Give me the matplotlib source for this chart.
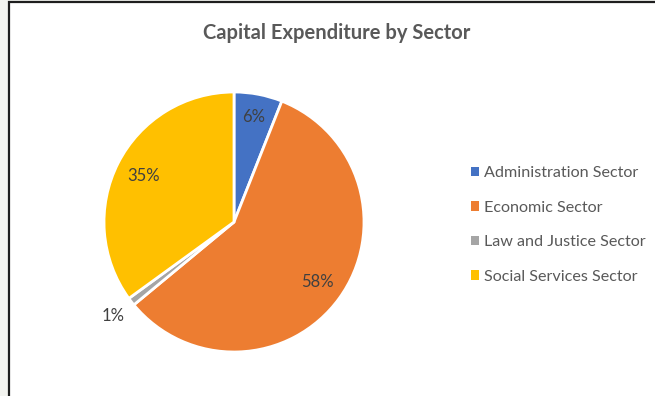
import matplotlib

matplotlib.use("Agg")
import matplotlib.pyplot as plt
import numpy as np
from matplotlib.patches import Patch, Rectangle

# Capital expenditure shares (percent)
sectors = [
    "Administration Sector",
    "Economic Sector",
    "Law and Justice Sector",
    "Social Services Sector",
]
shares = [6, 58, 1, 35]
colors = ["#4472C4", "#ED7D31", "#A5A5A5", "#FFC000"]

plt.rcParams["font.family"] = ["Lato", "DejaVu Sans"]

W, H = 655, 396
fig = plt.figure(figsize=(W / 100, H / 100), dpi=100)
fig.patch.set_facecolor("#F3F4F0")

# white chart area with a dark frame on the top and left (rest runs off the edge)
fig.patches.append(
    Rectangle((8.5 / W, -0.1), 1.2, 1.1 - 1.5 / H, transform=fig.transFigure,
              facecolor="white", edgecolor="#1E1E1E", linewidth=1.6, zorder=0)
)

cx, cy, r = 234, 222, 130
ax = fig.add_axes([(cx - r) / W, (H - cy - r) / H, 2 * r / W, 2 * r / H])
ax.set_zorder(2)
wedges, _ = ax.pie(
    shares,
    colors=colors,
    startangle=90,
    counterclock=False,
    radius=1.0,
    wedgeprops=dict(edgecolor="white", linewidth=2),
)
ax.set_xlim(-1, 1)
ax.set_ylim(-1, 1)
ax.set_aspect("equal")
ax.axis("off")

# percentage labels: inside for the large slices, outside for the thin one
label_r = [0.82, 0.79, 1.18, 0.78]
for w, v, lr in zip(wedges, shares, label_r):
    mid = np.deg2rad((w.theta1 + w.theta2) / 2)
    ax.text(lr * np.cos(mid), lr * np.sin(mid), f"{v}%", ha="center",
            va="center", fontsize=12, color="#404040", clip_on=False)

fig.text(337 / W, 1 - 33 / H, "Capital Expenditure by Sector", ha="center",
         va="center", fontsize=14.5, fontweight="bold", color="#595959")

handles = [Patch(facecolor=c, edgecolor="none") for c in colors]
leg = fig.legend(handles, sectors, loc="center left",
                 bbox_to_anchor=(456 / W, 1 - 225 / H), frameon=False,
                 fontsize=11.6, labelcolor="#595959", handlelength=0.55,
                 handleheight=0.55, handletextpad=0.3, labelspacing=1.28)
leg.set_zorder(3)

fig.savefig("out.png", dpi=100, facecolor=fig.get_facecolor())
